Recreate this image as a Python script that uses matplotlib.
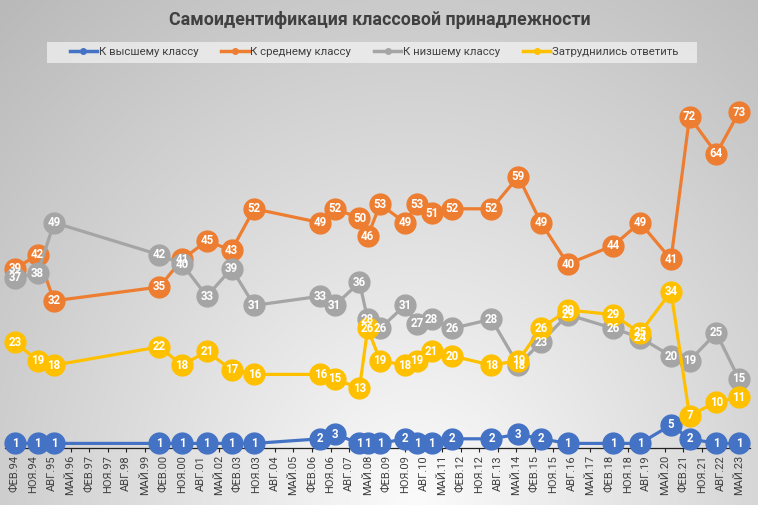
import numpy as np
import pandas as pd
import matplotlib
matplotlib.use('Agg')
import matplotlib.pyplot as plt
import matplotlib.dates as mdates
from matplotlib.lines import Line2D
from matplotlib.patches import Rectangle

plt.rcParams['font.family'] = ['Roboto', 'DejaVu Sans']

# Data (survey waves)
dates = ['1994-02', '1995-01', '1995-09', '1999-12', '2000-11', '2001-11', '2002-11',
         '2003-10', '2006-06', '2007-01', '2008-01', '2008-05', '2008-11', '2009-11',
         '2010-05', '2010-12', '2011-10', '2013-05', '2014-06', '2015-05', '2016-06',
         '2018-04', '2019-05', '2020-08', '2021-05', '2022-06', '2023-05']
upper = [1, 1, 1, 1, 1, 1, 1, 1, 2, 3, 1, 1, 1, 2, 1, 1, 2, 2, 3, 2, 1, 1, 1, 5, 2, 1, 1]
middle = [39, 42, 32, 35, 41, 45, 43, 52, 49, 52, 50, 46, 53, 49, 53, 51, 52, 52, 59, 49,
          40, 44, 49, 41, 72, 64, 73]
lower = [37, 38, 49, 42, 40, 33, 39, 31, 33, 31, 36, 28, 26, 31, 27, 28, 26, 28, 18, 23,
         29, 26, 24, 20, 19, 25, 15]
hard = [23, 19, 18, 22, 18, 21, 17, 16, 16, 15, 13, 26, 19, 18, 19, 21, 20, 18, 19, 26,
        30, 29, 25, 34, 7, 10, 11]

series_names = ['К высшему классу', 'К среднему классу', 'К низшему классу',
                'Затруднились ответить']
series_colors = ['#4472C4', '#ED7D31', '#A5A5A5', '#FFC000']

tick_labels = ['ФЕВ.94', 'НОЯ.94', 'АВГ.95', 'МАЙ.96', 'ФЕВ.97', 'НОЯ.97', 'АВГ.98',
               'МАЙ.99', 'ФЕВ.00', 'НОЯ.00', 'АВГ.01', 'МАЙ.02', 'ФЕВ.03', 'НОЯ.03',
               'АВГ.04', 'МАЙ.05', 'ФЕВ.06', 'НОЯ.06', 'АВГ.07', 'МАЙ.08', 'ФЕВ.09',
               'НОЯ.09', 'АВГ.10', 'МАЙ.11', 'ФЕВ.12', 'НОЯ.12', 'АВГ.13', 'МАЙ.14',
               'ФЕВ.15', 'НОЯ.15', 'АВГ.16', 'МАЙ.17', 'ФЕВ.18', 'НОЯ.18', 'АВГ.19',
               'МАЙ.20', 'ФЕВ.21', 'НОЯ.21', 'АВГ.22', 'МАЙ.23']
month_num = {'ФЕВ': 2, 'МАЙ': 5, 'АВГ': 8, 'НОЯ': 11}


def label_to_date(lbl):
    m, y = lbl.split('.')
    y = int(y)
    y = 1900 + y if y >= 90 else 2000 + y
    return pd.Timestamp(year=y, month=month_num[m], day=1)


W, H = 758, 505
fig = plt.figure(figsize=(W / 100, H / 100), dpi=100)

# background gradient
bg = fig.add_axes([0, 0, 1, 1], zorder=-10)
gx, gy = np.meshgrid(np.linspace(0, 1, 300), np.linspace(0, 1, 200))
d = np.sqrt(((gx - 0.55) / 0.75) ** 2 + ((gy - 1.0) / 1.25) ** 2)
shade = np.clip(0.985 - 0.24 * d, 0.72, 1)
bg.imshow(np.dstack([shade, shade, shade]), extent=[0, 1, 0, 1], origin='upper',
          aspect='auto', interpolation='bicubic')
bg.set_axis_off()

# plot area in pixels
left_px, right_px, top_px, bottom_px = 5, 750, 80, 448
ax = fig.add_axes([left_px / W, 1 - bottom_px / H, (right_px - left_px) / W,
                   (bottom_px - top_px) / H])
ax.patch.set_alpha(0)

x = mdates.date2num(pd.to_datetime(dates))
d0 = mdates.date2num(label_to_date(tick_labels[0]))
d1 = mdates.date2num(label_to_date(tick_labels[-1]))
scale = (d1 - d0) / (739 - 15)
ax.set_xlim(d0 - (15 - left_px) * scale, d0 + (right_px - 15) * scale)
ax.set_ylim(0, 80)

all_series = [upper, middle, lower, hard]
for i, (vals, col) in enumerate(zip(all_series, series_colors)):
    ax.plot(x, vals, color=col, lw=2.3, marker='o', ms=15, mec=col, mfc=col,
            zorder=3 + i, clip_on=False)

for vals in all_series:
    for xi, v in zip(x, vals):
        ax.text(xi, v, str(v), color='white', fontsize=8.3, fontweight='bold',
                ha='center', va='center', zorder=20, clip_on=False)

ticks = [mdates.date2num(label_to_date(t)) for t in tick_labels]
ax.set_xticks(ticks)
ax.set_xticklabels(tick_labels, rotation=90, fontsize=8, color='#404040')
ax.tick_params(axis='x', length=3, width=0.8, color='#222222', pad=2)
ax.set_yticks([])
for s in ['left', 'right', 'top']:
    ax.spines[s].set_visible(False)
ax.spines['bottom'].set_color('#222222')
ax.spines['bottom'].set_linewidth(0.9)

fig.text(380 / W, 1 - 20 / H, 'Самоидентификация классовой принадлежности',
         ha='center', va='center', fontsize=12.8, fontweight='bold', color='#404040')

# legend
fig.patches.append(Rectangle((47 / W, 1 - 63 / H), 650 / W, 21 / H,
                             transform=fig.transFigure, facecolor='#f4f4f4',
                             edgecolor='none', alpha=0.7, zorder=0))
handles = [Line2D([0], [0], color=c, lw=2.5, marker='o', ms=4) for c in series_colors]
fig.legend(handles, series_names, loc='center', bbox_to_anchor=(374 / W, 1 - 52 / H),
           ncol=4, frameon=False, fontsize=8.2, labelcolor='#404040',
           handlelength=2.4, handletextpad=0.15, columnspacing=2.0)

fig.savefig('out.png', dpi=100)
